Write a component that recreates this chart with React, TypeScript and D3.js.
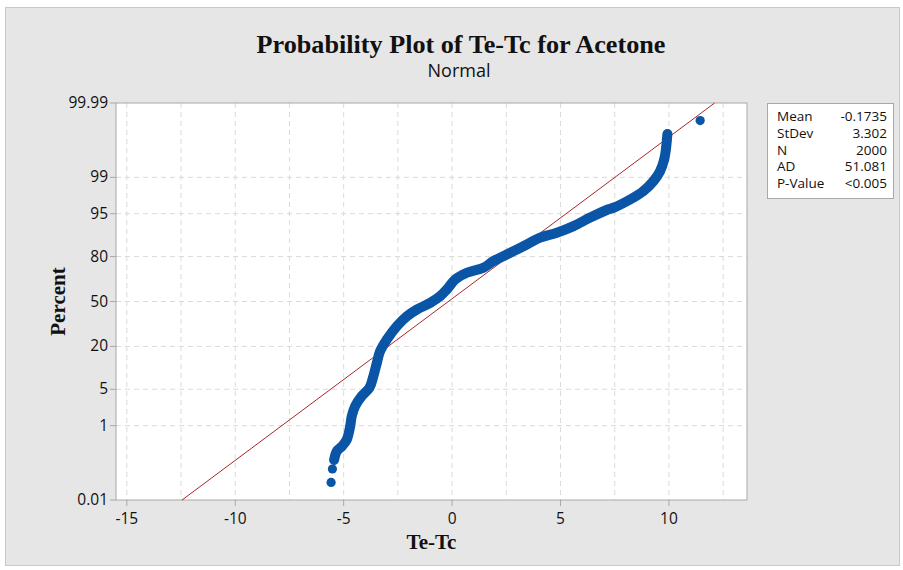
import React from "react";
import * as d3 from "d3";

// sorted Te-Tc values, with their plotting percent
const teTc = [
  -5.58, -5.52, -5.44, -5.32, -5.09, -4.86, -4.7, -4.63, -4.47, -4.17, -3.81,
  -3.63, -3.47, -3.32, -3.01, -2.55, -2.09, -1.63, -1.01, -0.55, -0.24, 0.14,
  0.68, 1.44, 1.9, 2.52, 3.29, 4.06, 4.83, 5.6, 6.37, 7.21, 7.44, 8.21, 8.82,
  9.29, 9.59, 9.78, 9.86, 9.9, 9.93, 11.44,
];
const percent = [
  0.035, 0.085, 0.15, 0.25, 0.33, 0.48, 0.97, 1.57, 2.5, 3.8, 5.3, 8.1, 12.5,
  17.6, 23.8, 32.2, 39.1, 44.0, 49.0, 54.0, 58.9, 66.0, 70.5, 73.6, 77.5, 81.1,
  85.0, 88.4, 90.1, 92.1, 94.2, 95.8, 96.05, 97.2, 98.07, 98.8, 99.27, 99.61,
  99.78, 99.868, 99.915, 99.965,
];

const xTicks = [-15, -10, -5, 0, 5, 10];
const xGrid = [-15, -12.5, -10, -7.5, -5, -2.5, 0, 2.5, 5, 7.5, 10, 12.5];
const yTicks = [0.01, 1, 5, 20, 50, 80, 95, 99, 99.99];

const statLabels = ["Mean", "StDev", "N", "AD", "P-Value"];
const statValues = ["-0.1735", "3.302", "2000", "51.081", "<0.005"];
const mean = -0.1735;
const stdev = 3.302;

// inverse normal cdf (Acklam)
function qnorm(p: number) {
  const a = [-39.69683028665376, 220.9460984245205, -275.9285104469687, 138.357751867269, -30.66479806614716, 2.506628277459239];
  const b = [-54.47609879822406, 161.5858589980241, -155.6989798598866, 66.80131188771972, -13.28068155288572];
  const c = [-0.007784894002430293, -0.3223964580411365, -2.400758277161838, -2.549732539343734, 4.374664141464968, 2.938163982698783];
  const d = [0.007784695709041462, 0.3224671290700398, 2.445134137142996, 3.754408661907416];
  const plow = 0.02425;
  if (p < plow) {
    const q = Math.sqrt(-2 * Math.log(p));
    return (((((c[0] * q + c[1]) * q + c[2]) * q + c[3]) * q + c[4]) * q + c[5]) /
      ((((d[0] * q + d[1]) * q + d[2]) * q + d[3]) * q + 1);
  }
  if (p <= 1 - plow) {
    const q = p - 0.5;
    const r = q * q;
    return ((((((a[0] * r + a[1]) * r + a[2]) * r + a[3]) * r + a[4]) * r + a[5]) * q) /
      (((((b[0] * r + b[1]) * r + b[2]) * r + b[3]) * r + b[4]) * r + 1);
  }
  const q = Math.sqrt(-2 * Math.log(1 - p));
  return -(((((c[0] * q + c[1]) * q + c[2]) * q + c[3]) * q + c[4]) * q + c[5]) /
    ((((d[0] * q + d[1]) * q + d[2]) * q + d[3]) * q + 1);
}

export default function App() {
  const plot = { left: 116, right: 747, top: 103, bottom: 500 };
  const sans = "'Open Sans', 'Noto Sans', sans-serif";
  const serif = "'Liberation Serif', 'Times New Roman', serif";

  const xScale = d3.scaleLinear().domain([-15.5, 13.6]).range([plot.left, plot.right]);
  const zScale = d3
    .scaleLinear()
    .domain([qnorm(0.0001), qnorm(0.9999)])
    .range([plot.bottom, plot.top]);
  const yPos = (p: number) => zScale(qnorm(p / 100));

  const pts = teTc.map((v, i) => ({ x: v, p: percent[i] }));
  // dense middle of the sample forms a solid band
  const band = pts.slice(2, 41);
  const bandPath = d3
    .line<{ x: number; p: number }>()
    .x((d) => xScale(d.x))
    .y((d) => yPos(d.p))
    .curve(d3.curveCatmullRom)(band);

  const zLo = qnorm(0.0001);
  const zHi = qnorm(0.9999);
  const fitLine = d3.line<number>()
    .x((z) => xScale(mean + stdev * z))
    .y((z) => zScale(z))([zLo, zHi]);

  const blue = "#0a55a6";

  return (
    <svg width={903} height={570} style={{ position: "absolute", left: 0, top: 0 }}>
      <rect x={0} y={0} width={903} height={570} fill="#ffffff" />
      <rect x={5.5} y={7.5} width={894} height={558} fill="#e6e6e6" stroke="#c8c8c8" />

      <text x={461} y={53} textAnchor="middle" fontFamily={serif} fontWeight="bold" fontSize={26}
        textLength={409} lengthAdjust="spacingAndGlyphs" fill="#111">
        Probability Plot of Te-Tc for Acetone
      </text>
      <text x={459} y={77} textAnchor="middle" fontFamily={sans} fontSize={18} fill="#111">
        Normal
      </text>

      <rect x={plot.left} y={plot.top} width={plot.right - plot.left} height={plot.bottom - plot.top}
        fill="#ffffff" />

      {xGrid.map((v) => (
        <line key={"gx" + v} x1={xScale(v)} x2={xScale(v)} y1={plot.top} y2={plot.bottom}
          stroke="#dadada" strokeDasharray="5,4" />
      ))}
      {yTicks.filter((p) => p > 0.01 && p < 99.99).map((p) => (
        <line key={"gy" + p} x1={plot.left} x2={plot.right} y1={yPos(p)} y2={yPos(p)}
          stroke="#dadada" strokeDasharray="5,4" />
      ))}

      <rect x={plot.left} y={plot.top} width={plot.right - plot.left} height={plot.bottom - plot.top}
        fill="none" stroke="#a8a8a8" />

      {yTicks.map((p) => (
        <g key={"yt" + p}>
          <line x1={plot.left - 6} x2={plot.left} y1={yPos(p)} y2={yPos(p)} stroke="#a8a8a8" />
          <text x={plot.left - 8} y={yPos(p) + 5} textAnchor="end" fontFamily={sans} fontSize={15.5}
            fill="#111">
            {String(p)}
          </text>
        </g>
      ))}
      {xTicks.map((v) => (
        <g key={"xt" + v}>
          <line x1={xScale(v)} x2={xScale(v)} y1={plot.bottom} y2={plot.bottom + 6} stroke="#a8a8a8" />
          <text x={xScale(v)} y={plot.bottom + 24} textAnchor="middle" fontFamily={sans} fontSize={15.5}
            fill="#111">
            {v < 0 ? "-" + Math.abs(v) : String(v)}
          </text>
        </g>
      ))}

      <path d={fitLine || ""} stroke="#a8262b" strokeWidth={1} fill="none" />

      <path d={bandPath || ""} stroke={blue} strokeWidth={10} strokeLinecap="round" strokeLinejoin="round" fill="none" />
      {pts.map((d, i) => (
        <circle key={"pt" + i} cx={xScale(d.x)} cy={yPos(d.p)} r={4.6} fill={blue} />
      ))}

      <text x={(plot.left + plot.right) / 2} y={549} textAnchor="middle" fontFamily={serif}
        fontWeight="bold" fontSize={21} fill="#111">
        Te-Tc
      </text>
      <text transform={`translate(65, ${(plot.top + plot.bottom) / 2}) rotate(-90)`} textAnchor="middle"
        fontFamily={serif} fontWeight="bold" fontSize={21} fill="#111">
        Percent
      </text>

      <rect x={767.5} y={103.5} width={126} height={95} fill="#ffffff" stroke="#a8a8a8" />
      {statLabels.map((s, i) => (
        <g key={"st" + s}>
          <text x={777} y={121 + i * 16.8} fontFamily={sans} fontSize={13.5} fill="#111">{s}</text>
          <text x={887} y={121 + i * 16.8} textAnchor="end" fontFamily={sans} fontSize={13.5}
            fill="#111">
            {statValues[i]}
          </text>
        </g>
      ))}
    </svg>
  );
}
